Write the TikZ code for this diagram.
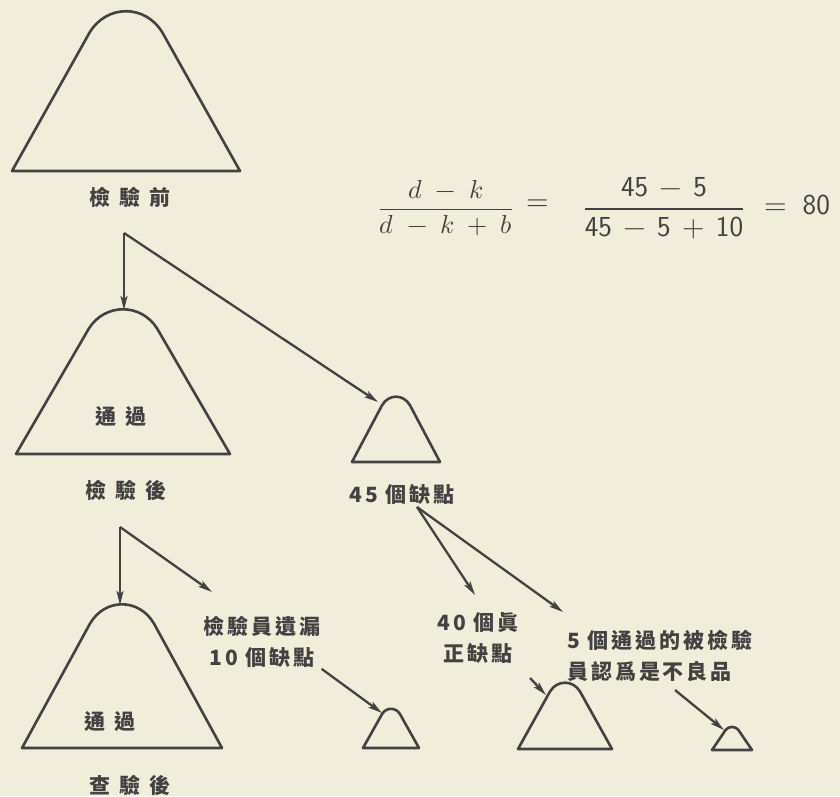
\documentclass[tikz,border=0pt]{standalone}
\usepackage{fontspec}
\usepackage{unicode-math}
\setmathfont{Latin Modern Math}
\newfontfamily\cjk{Noto Sans CJK TC}[LetterSpace=14]
\usetikzlibrary{arrows.meta}

\definecolor{paper}{RGB}{241,237,219}
\definecolor{ink}{RGB}{66,66,66}

\newcommand{\gap}{\hspace{9pt}}

\begin{document}
\begin{tikzpicture}[
  x=1pt, y=-1pt,
  every node/.style={text=ink, inner sep=1pt, font=\cjk\bfseries\fontsize{21}{31}\selectfont},
  mathtext/.style={font=\fontsize{26}{30}\selectfont},
  numtext/.style={font=\fontsize{29}{34}\selectfont},
  mound/.style={draw=ink, line width=2.6pt, line join=round},
  arr/.style={draw=ink, line width=2.3pt, line join=miter,
    -{Stealth[length=14pt,width=7pt,inset=3pt]}},
]

% ---- Page: the scan is 840 x 796, y runs downward ----
\fill[paper] (0,0) rectangle (840,796);
\useasboundingbox (0,0) rectangle (840,796);

% ---- Mounds: centre x / base y / half width / height ----
\foreach \cx/\b/\w/\h in {126/171/114/159, 123/454/107/144, 122/748/100/143,
                         396/462/44/65, 391/748/28/39, 565/749/47/66, 732/750/20/23} {
  \draw[mound] ({\cx-\w},\b) -- ({\cx-0.32*\w},{\b-0.87*\h})
    .. controls ({\cx-0.17*\w},{\b-1.05*\h}) and ({\cx+0.17*\w},{\b-1.05*\h})
    .. ({\cx+0.32*\w},{\b-0.87*\h}) -- ({\cx+\w},\b) -- cycle;
}

% ---- Labels ----
\node (pre)    at (130,197) {檢\gap 驗\gap 前};
\node (pass1)  at (121,417) {通\gap 過};
\node (post)   at (126,490) {檢\gap 驗\gap 後};
\node (pass2)  at (110,722) {通\gap 過};
\node (recheck) at (130,785) {查\gap 驗\gap 後};
\node (d45)    at (402,495) {45 個缺點};
\node[align=center] (missed) at (262,642) {檢驗員遺漏\\10 個缺點};
\node[align=center] (true40) at (478,638) {40 個眞\\正缺點};
\node[align=left, anchor=west] (fail5) at (566,656) {5 個通過的被檢驗\\員認爲是不良品};

% ---- Formula ----
\node[mathtext] (fracA) at (446,208)
  {$\displaystyle\frac{d \;-\; k}{d \;-\; k \;+\; b}$};
\node[numtext] (eqA) at (538,205) {$=$};
\node[numtext] (fracB) at (664,208)
  {$\displaystyle\frac{\mathsf{45} \,-\, \mathsf{5}}{\mathsf{45} \,-\, \mathsf{5} \,+\, \mathsf{10}}$};
\node[numtext] (eqB) at (797,205) {$= \;\mathsf{80}$};

% ---- Arrow ends ----
\coordinate (fork1) at (124,233);
\coordinate (fork2) at (120,527);
\coordinate (fork3) at (417,507);
\coordinate (top2)  at (124,310);
\coordinate (top3)  at (120,605);
\coordinate (sh45)  at (378,402);
\coordinate (shA)   at (382,713);
\coordinate (sh40)  at (546,695);
\coordinate (sh5)   at (724,730);
\coordinate (toA)   at (212,592);
\coordinate (to40)  at (475,595);
\coordinate (to5)   at (563,612);
\coordinate (from40) at (530,678);
\coordinate (from5)  at (675,690);

% ---- Arrows ----
\draw[arr] (fork1) -- (top2);
\draw[arr] (fork1) -- (sh45);
\draw[arr] (fork2) -- (top3);
\draw[arr] (fork2) -- (toA);
\draw[arr] (missed.south east) -- (shA);
\draw[arr] (fork3) -- (to40);
\draw[arr] (fork3) -- (to5);
\draw[arr] (from40) -- (sh40);
\draw[arr] (from5) -- (sh5);

\end{tikzpicture}
\end{document}
